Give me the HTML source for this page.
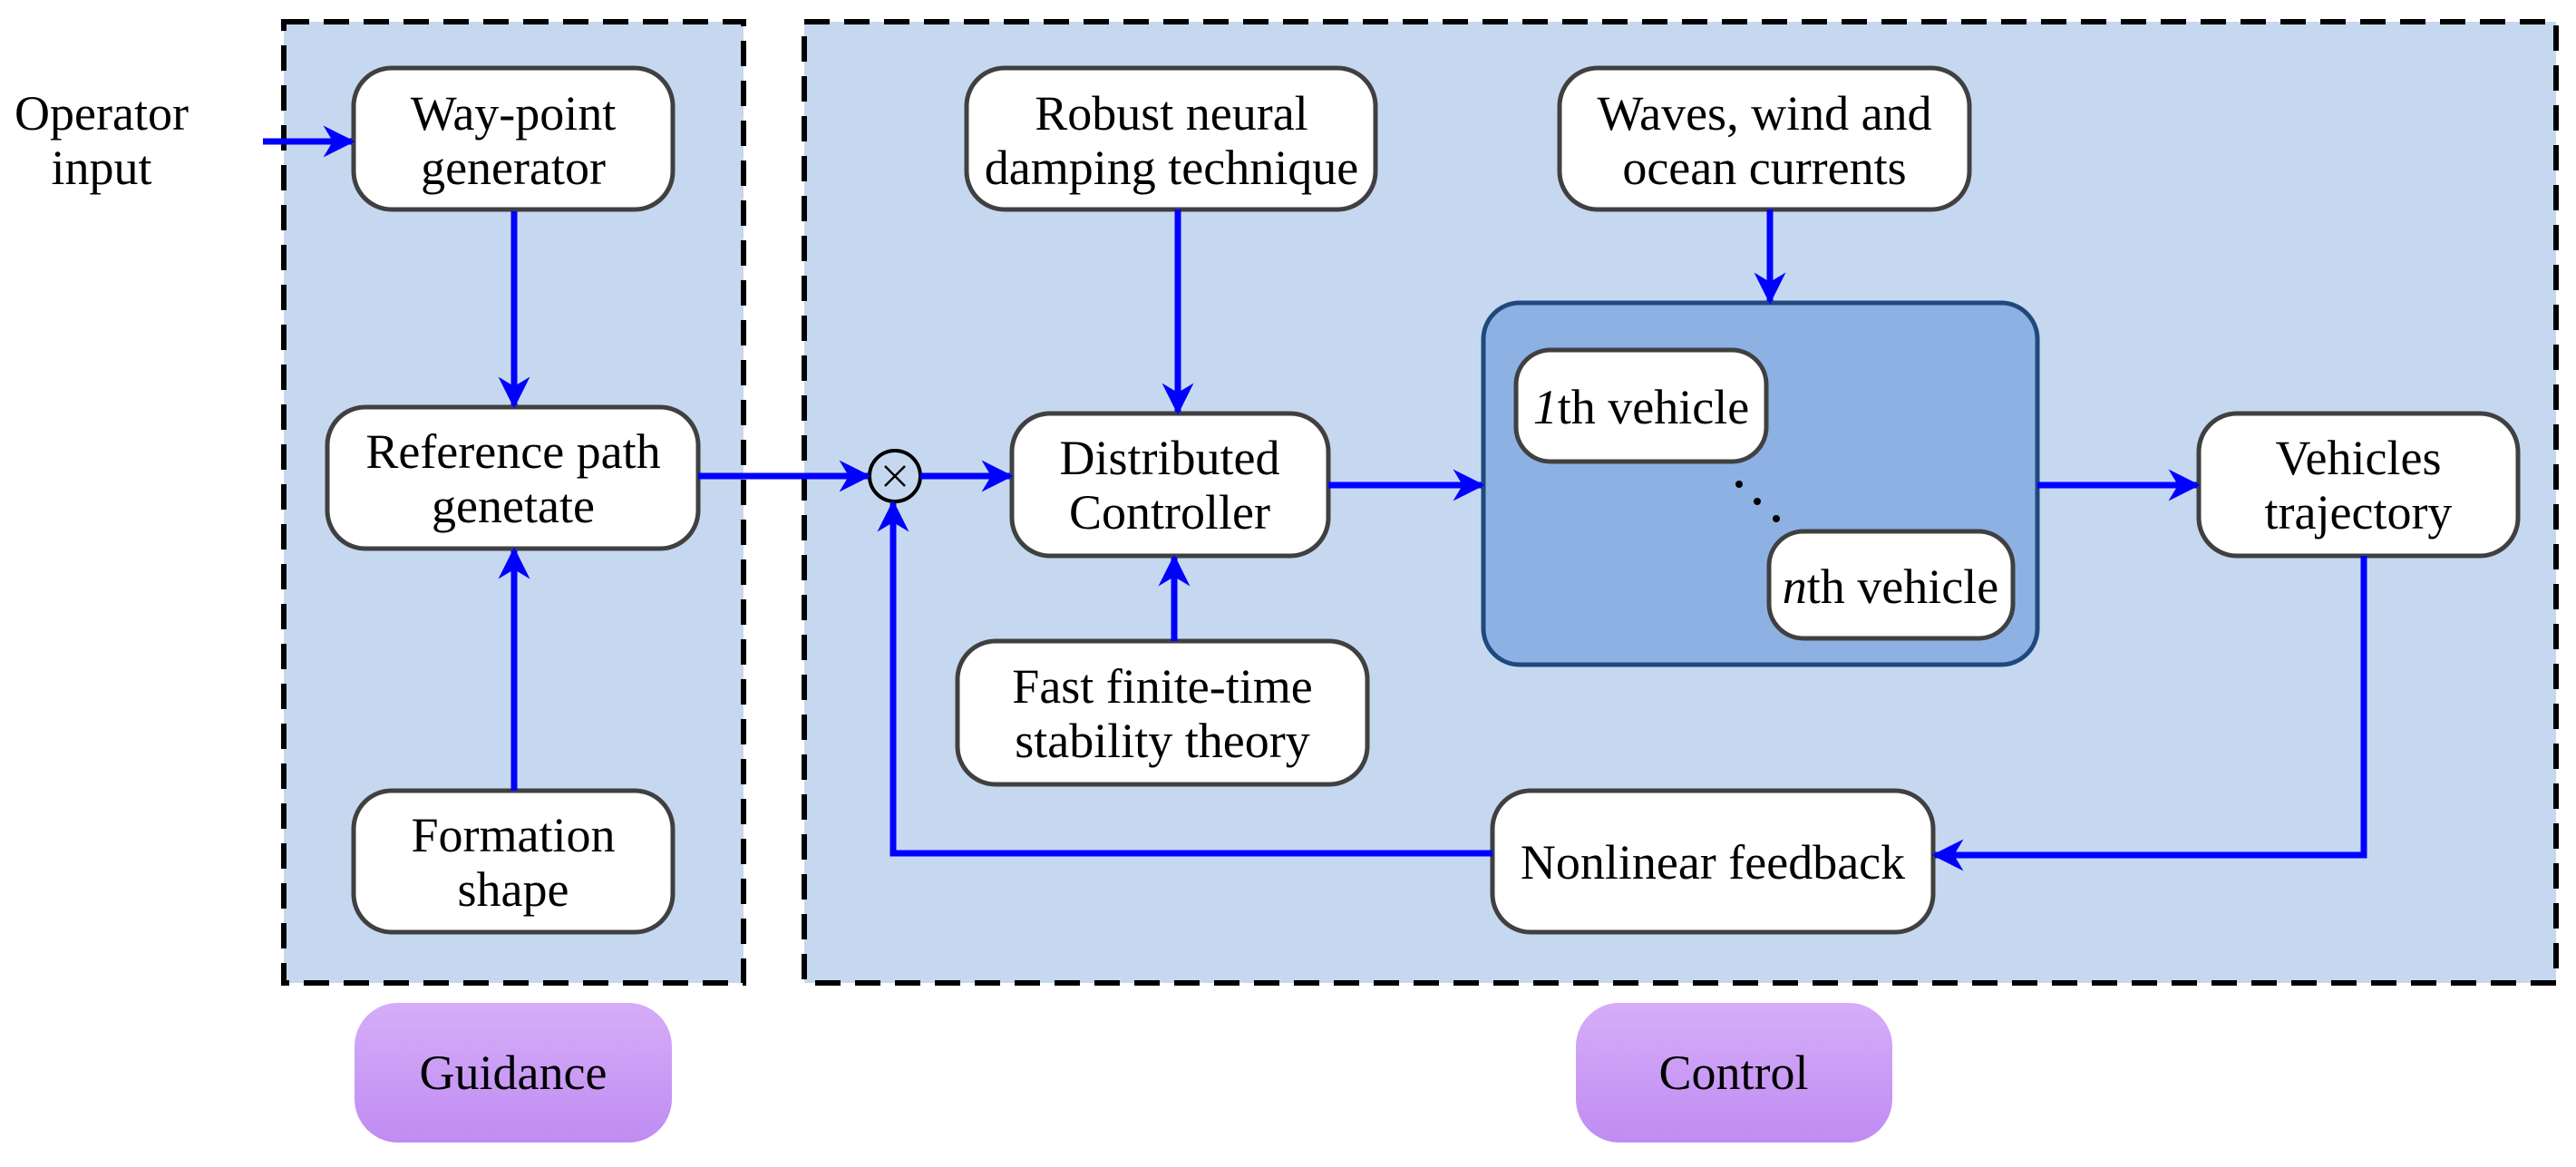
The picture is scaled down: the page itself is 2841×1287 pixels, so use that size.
<!DOCTYPE html>
<html><head><meta charset="utf-8"><style>
html,body{margin:0;padding:0;background:#fff;overflow:hidden}
svg{display:block}
text{font-family:"Liberation Serif",serif;font-size:54px;fill:#000;text-anchor:middle}
</style></head><body>
<svg width="2841" height="1287" viewBox="0 0 2841 1287" xmlns="http://www.w3.org/2000/svg">
<defs>
<linearGradient id="g" x1="0" y1="0" x2="0" y2="1"><stop offset="0" stop-color="#d5adf8"/><stop offset="1" stop-color="#c08cf2"/></linearGradient>
<marker id="a" viewBox="0 0 10 10" refX="9" refY="5" markerWidth="5" markerHeight="5" orient="auto" markerUnits="strokeWidth"><path d="M0,0 L10,5 L0,10 L3,5 Z" fill="#0000ff"/></marker>
</defs>
<rect x="313" y="24" width="507" height="1060" fill="#c6d8f0" stroke="#000" stroke-width="6" stroke-dasharray="28,16"/>
<rect x="887" y="24" width="1932" height="1060" fill="#c6d8f0" stroke="#000" stroke-width="6" stroke-dasharray="28,16"/>
<rect x="391" y="1106" width="350" height="154" rx="48" fill="url(#g)"/>
<text x="566" y="1201">Guidance</text>
<rect x="1738" y="1106" width="349" height="154" rx="48" fill="url(#g)"/>
<text x="1912" y="1201">Control</text>
<g fill="#fff" stroke="#404040" stroke-width="5">
<rect x="390" y="75" width="352" height="156" rx="42"/>
<rect x="361" y="449" width="409" height="156" rx="42"/>
<rect x="390" y="872" width="352" height="156" rx="42"/>
<rect x="1066" y="75" width="451" height="156" rx="42"/>
<rect x="1116" y="456" width="349" height="157" rx="42"/>
<rect x="1056" y="707" width="452" height="158" rx="42"/>
<rect x="1720" y="75" width="452" height="156" rx="42"/>
<rect x="1646" y="872" width="486" height="156" rx="42"/>
<rect x="2425" y="456" width="352" height="157" rx="42"/>
</g>
<rect x="1636" y="334" width="611" height="399" rx="40" fill="#8db1e3" stroke="#1f497d" stroke-width="5"/>
<g fill="#fff" stroke="#404040" stroke-width="5">
<rect x="1672" y="386" width="276" height="123" rx="38"/>
<rect x="1951" y="586" width="269" height="118" rx="38"/>
</g>
<circle cx="1918" cy="534" r="4"/><circle cx="1938" cy="553" r="4"/><circle cx="1959" cy="572" r="4"/>
<text x="112" y="143">Operator</text><text x="112" y="203">input</text>
<text x="566" y="143">Way-point</text><text x="566" y="203">generator</text>
<text x="566" y="516">Reference path</text><text x="566" y="576">genetate</text>
<text x="566" y="939">Formation</text><text x="566" y="999">shape</text>
<text x="1292" y="143">Robust neural</text><text x="1292" y="203">damping technique</text>
<text x="1290" y="523">Distributed</text><text x="1290" y="583">Controller</text>
<text x="1282" y="775">Fast finite-time</text><text x="1282" y="835">stability theory</text>
<text x="1946" y="143">Waves, wind and</text><text x="1946" y="203">ocean currents</text>
<text x="1889" y="969">Nonlinear feedback</text>
<text x="2601" y="523">Vehicles</text><text x="2601" y="583">trajectory</text>
<text x="1810" y="467"><tspan font-style="italic">1</tspan>th vehicle</text>
<text x="2085" y="665"><tspan font-style="italic">n</tspan>th vehicle</text>
<circle cx="987" cy="525" r="28" fill="#c6d8f0" stroke="#000" stroke-width="4"/>
<path d="M976,514 L998,536 M998,514 L976,536" stroke="#000" stroke-width="2.5"/>
<g stroke="#0000ff" stroke-width="7" fill="none" marker-end="url(#a)">
<line x1="290" y1="156" x2="388" y2="156"/>
<line x1="567" y1="233" x2="567" y2="447"/>
<line x1="567" y1="872" x2="567" y2="607"/>
<line x1="770" y1="525" x2="957" y2="525"/>
<line x1="1015" y1="525" x2="1114" y2="525"/>
<line x1="1299" y1="231" x2="1299" y2="454"/>
<line x1="1295" y1="707" x2="1295" y2="615"/>
<line x1="1952" y1="231" x2="1952" y2="332"/>
<line x1="1465" y1="535" x2="1634" y2="535"/>
<line x1="2247" y1="535" x2="2423" y2="535"/>
<polyline points="1646,941 985,941 985,555"/>
<polyline points="2607,613 2607,943 2134,943"/>
</g>
</svg>
</body></html>
